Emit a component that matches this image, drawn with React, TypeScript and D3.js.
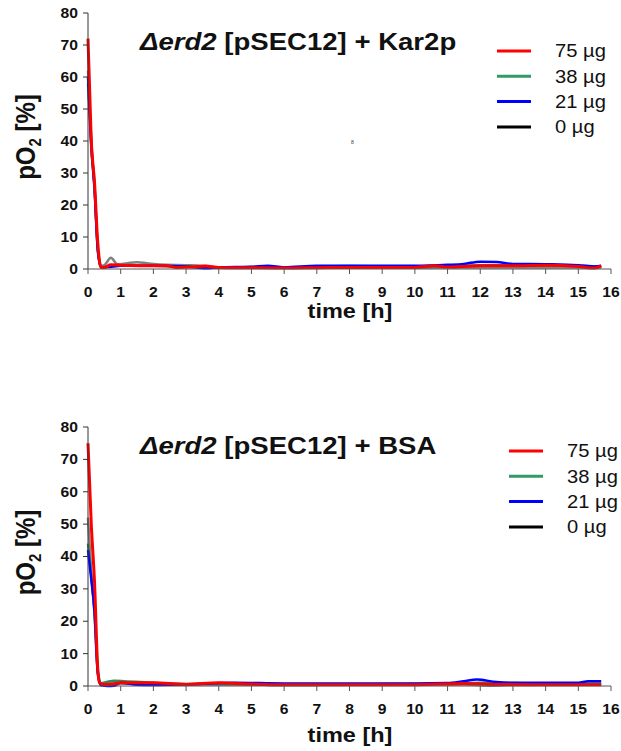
import React from "react";
import * as d3 from "d3";

const W = 621;
const H = 751;

// time [h], pO2 [%]
const kar0 = [[0, 62], [0.1, 40], [0.2, 26], [0.3, 6], [0.4, 1], [0.5, 1.2], [0.7, 3.5], [0.9, 1.5], [1.2, 1.8], [1.5, 2.1], [1.8, 1.8], [2.2, 1.4], [3, 1.2], [3.5, 1], [4, 0.5], [5, 0.5], [6, 0.4], [8, 0.5], [10, 0.4], [12, 0.5], [14, 0.5], [15.7, 0.5]];
const kar38 = [[0, 58], [0.1, 38], [0.2, 25], [0.3, 6], [0.4, 0.6], [0.6, 0.8], [1, 1], [2, 1], [3, 0.8], [4, 0.4], [5, 0.6], [6, 0.4], [7, 0.7], [8, 0.9], [9, 0.8], [10, 0.7], [11, 0.9], [12, 1.2], [13, 1.1], [14, 1.1], [15, 1], [15.7, 0.8]];
const kar21 = [[0, 60], [0.1, 39], [0.2, 25], [0.3, 6], [0.4, 0.5], [0.6, 0.6], [1, 1], [2, 1], [3, 0.8], [3.6, 0.2], [4, 0.5], [5, 0.7], [5.5, 1], [6, 0.5], [7, 1], [8, 1], [9, 1], [10, 1], [11, 1.3], [11.5, 1.6], [12, 2.3], [12.5, 2.2], [13, 1.6], [14, 1.5], [15, 1.2], [15.5, 0.8], [15.7, 1]];
const kar75 = [[0, 72], [0.1, 40], [0.2, 27], [0.3, 8], [0.4, 0.5], [0.5, 0.5], [0.7, 1.3], [1, 1.2], [2, 1], [2.4, 1], [2.7, 0.5], [3.2, 0.6], [3.6, 0.9], [4, 0.5], [5, 0.4], [6, 0.3], [7, 0.4], [8, 0.5], [9, 0.5], [10, 0.5], [10.6, 1], [11, 0.6], [12, 1], [13, 1], [14, 1.2], [15, 0.8], [15.5, 0.3], [15.7, 1]];

const bsa0 = [[0, 52], [0.1, 35], [0.2, 22], [0.3, 4], [0.4, 0.6], [0.7, 0.8], [1, 0.8], [2, 0.6], [4, 0.5], [6, 0.4], [8, 0.4], [10, 0.4], [11.5, 0.5], [12.3, 0.1], [13, 0.3], [14, 0.4], [15.7, 0.5]];
const bsa38 = [[0, 44], [0.1, 34], [0.2, 23], [0.3, 5], [0.4, 0.8], [0.6, 1.3], [0.8, 1.6], [1.1, 1.5], [2, 1], [3, 0.6], [4, 0.6], [5, 0.5], [6, 0.3], [8, 0.5], [10, 0.6], [11, 0.6], [12, 1], [13, 0.9], [14, 0.8], [15, 0.8], [15.7, 0.8]];
const bsa21 = [[0, 42], [0.1, 33], [0.2, 23], [0.3, 4], [0.4, 0.2], [0.6, 0], [0.8, 0.1], [1, 1], [1.5, 0.4], [2, 0.3], [3, 0.5], [4.5, 1], [6, 0.8], [8, 0.8], [10, 0.8], [11, 0.9], [11.5, 1.5], [11.9, 2], [12.5, 1.2], [13, 1], [14, 1], [15, 1], [15.3, 1.5], [15.7, 1.5]];
const bsa75 = [[0, 75], [0.1, 50], [0.2, 32], [0.3, 5], [0.35, 1], [0.5, 0.5], [0.8, 0.7], [1, 1], [2, 1], [3, 0.5], [4, 1], [5, 0.6], [6, 0.4], [8, 0.4], [10, 0.4], [11.5, 0.8], [12.5, 0.5], [14, 0.4], [15.7, 0.4]];

const legendLabels = ["75 µg", "38 µg", "21 µg", "0 µg"];
const legendColors = ["#ff0000", "#339966", "#0000ff", "#000000"];
const yTicks = [0, 10, 20, 30, 40, 50, 60, 70, 80];
const xTicks = d3.range(0, 17);

const panels = [
  { top: 13, bottom: 269, title: "Kar2p", titleY: 50, series: [kar0, kar38, kar21, kar75], legX: 497, legY: 51, xLabY: 318 },
  { top: 427, bottom: 686, title: "BSA", titleY: 454, series: [bsa0, bsa38, bsa21, bsa75], legX: 509, legY: 451, xLabY: 742 },
];
const lineColors = ["#808080", "#2e8b57", "#0000ff", "#ff0000"];
const lineWidths = [2.5, 2.5, 2.5, 3];

const font = "Arial, 'Liberation Sans', sans-serif";
const SX = 1.12; // the picture is a bit wider than tall

// text stretched a little horizontally
const T = ({ x, y, sx = SX, children, ...rest }: any) => (
  <text transform={`translate(${x},${y}) scale(${sx},1)`} {...rest}>{children}</text>
);

function Panel({ p }: { p: any }) {
  const x = d3.scaleLinear().domain([0, 16]).range([88, 611]);
  const y = d3.scaleLinear().domain([0, 80]).range([p.bottom, p.top]);
  const line = d3.line<number[]>().x(d => x(d[0])).y(d => y(d[1])).curve(d3.curveMonotoneX);
  const midY = (p.top + p.bottom) / 2;
  return (
    <g fontFamily={font}>
      {p.series.map((s: number[][], i: number) => (
        <path key={i} d={line(s) || ""} fill="none" stroke={lineColors[i]} strokeWidth={lineWidths[i]} strokeLinejoin="round" />
      ))}
      <line x1={x(0)} x2={x(0)} y1={y(80)} y2={y(0)} stroke="#333" strokeWidth={1} />
      <line x1={x(0)} x2={x(16)} y1={y(0)} y2={y(0)} stroke="#555" strokeWidth={1} />
      {yTicks.map(t => (
        <g key={t}>
          <line x1={x(0) - 5} x2={x(0)} y1={y(t)} y2={y(t)} stroke="#333" />
          <T x={x(0) - 10} y={y(t)} dy="0.35em" textAnchor="end" fontSize={14} fontWeight="bold" fill="#111">{t}</T>
        </g>
      ))}
      {xTicks.map(t => (
        <g key={t}>
          <line x1={x(t)} x2={x(t)} y1={y(0)} y2={y(0) + 5} stroke="#555" />
          <T x={x(t)} y={y(0) + 28} textAnchor="middle" fontSize={14} fontWeight="bold" fill="#111">{t}</T>
        </g>
      ))}
      <T x={350} y={p.xLabY} textAnchor="middle" fontSize={21} fontWeight="bold" fill="#111">time [h]</T>
      <text transform={`translate(35,${midY - 4}) scale(${SX},1) rotate(-90)`} textAnchor="middle" fontSize={24} fontWeight="bold" fill="#111">
        pO<tspan fontSize={15} dy={5}>2</tspan><tspan dy={-5}> [%]</tspan>
      </text>
      <T x={140} y={p.titleY} fontSize={24.6} fontWeight="bold" fill="#111">
        <tspan fontStyle="italic">Δerd2</tspan> [pSEC12] + {p.title}
      </T>
      {legendLabels.map((l, i) => (
        <g key={l}>
          <line x1={p.legX} x2={p.legX + 34} y1={p.legY + i * 25.3} y2={p.legY + i * 25.3} stroke={legendColors[i]} strokeWidth={3} />
          <T x={p.legX + 58} y={p.legY + i * 25.3} dy="0.35em" fontSize={18} fill="#111">{l}</T>
        </g>
      ))}
    </g>
  );
}

export default function App() {
  return (
    <svg width={W} height={H} style={{ position: "absolute", left: 0, top: 0, background: "#fff" }}>
      <rect width={W} height={H} fill="#fff" />
      {panels.map((p, i) => <Panel key={i} p={p} />)}
      <text x={351} y={144} fontSize={5} fill="#333" fontFamily={font}>8</text>
    </svg>
  );
}
